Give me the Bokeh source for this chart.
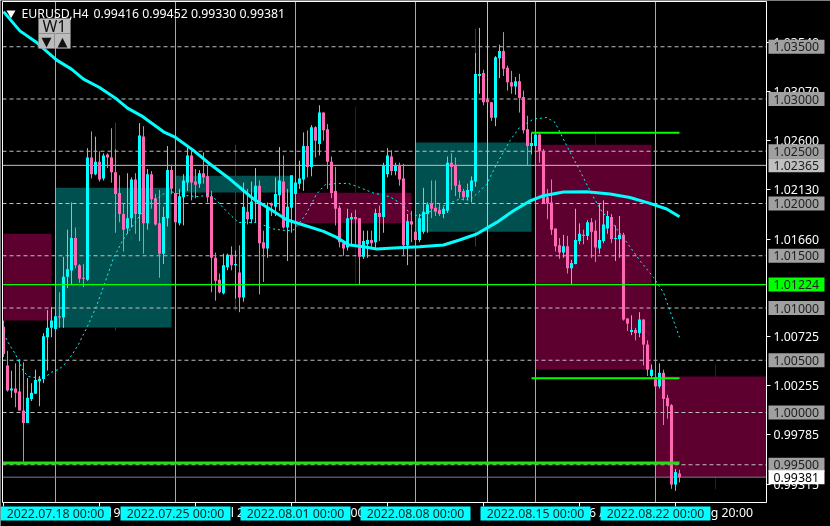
from bokeh.plotting import figure
from bokeh.models import (Range1d, LinearAxis, FixedTicker, BoxAnnotation, Label)
from bokeh.embed import file_html
from bokeh.resources import INLINE

opens = [1.0082,1.0045,1.0021,1.0023,1.0020,1.0002,0.9990,1.0013,1.0018,1.0030,1.0032,1.0072,1.0081,1.0080,1.0092,1.0091,1.0130,1.0136,1.0167,1.0141,
1.0129,1.0127,1.0244,1.0228,1.0240,1.0224,1.0247,1.0244,1.0230,1.0210,1.0190,1.0176,1.0186,1.0223,1.0190,1.0264,1.0181,1.0228,1.0205,1.0181,
1.0152,1.0186,1.0232,1.0210,1.0181,1.0206,1.0220,1.0246,1.0221,1.0219,1.0229,1.0226,1.0207,1.0148,1.0127,1.0114,1.0139,1.0151,1.0141,1.0134,
1.0110,1.0192,1.0185,1.0202,1.0217,1.0163,1.0157,1.0200,1.0197,1.0208,1.0221,1.0177,1.0196,1.0209,1.0219,1.0223,1.0255,1.0235,1.0273,1.0257,
1.0287,1.0271,1.0240,1.0212,1.0196,1.0162,1.0158,1.0185,1.0187,1.0186,1.0149,1.0161,1.0165,1.0163,1.0191,1.0187,1.0228,1.0245,1.0231,1.0236,
1.0224,1.0160,1.0183,1.0173,1.0165,1.0173,1.0190,1.0200,1.0196,1.0194,1.0190,1.0193,1.0239,1.0237,1.0218,1.0212,1.0206,1.0212,1.0221,1.0322,
1.0325,1.0299,1.0297,1.0282,1.0339,1.0346,1.0330,1.0316,1.0312,1.0317,1.0302,1.0271,1.0255,1.0255,1.0266,1.0250,1.0206,1.0201,1.0176,1.0160,
1.0153,1.0159,1.0138,1.0142,1.0164,1.0170,1.0169,1.0182,1.0174,1.0157,1.0164,1.0176,1.0187,1.0166,1.0166,1.0170,1.0090,1.0077,1.0079,1.0076,
1.0089,1.0065,1.0035,1.0034,1.0025,1.0038,1.0014,1.0007,0.9931,0.99416]
highs = [1.0088,1.0059,1.0040,1.0047,1.0051,1.0048,1.0033,1.0028,1.0041,1.0035,1.0076,1.0098,1.0101,1.0101,1.0115,1.0149,1.0175,1.0201,1.0177,1.0142,
1.0142,1.0253,1.0269,1.0264,1.0250,1.0248,1.0248,1.0272,1.0252,1.0227,1.0200,1.0229,1.0225,1.0229,1.0277,1.0274,1.0233,1.0231,1.0209,1.0213,
1.0197,1.0255,1.0237,1.0212,1.0214,1.0228,1.0255,1.0253,1.0233,1.0232,1.0249,1.0236,1.0212,1.0153,1.0133,1.0152,1.0152,1.0159,1.0155,1.0160,
1.0220,1.0214,1.0221,1.0234,1.0222,1.0174,1.0201,1.0201,1.0225,1.0254,1.0246,1.0214,1.0227,1.0222,1.0241,1.0268,1.0270,1.0275,1.0274,1.0294,
1.0287,1.0276,1.0245,1.0235,1.0198,1.0164,1.0195,1.0191,1.0194,1.0186,1.0174,1.0174,1.0174,1.0195,1.0198,1.0239,1.0253,1.0251,1.0239,1.0239,
1.0238,1.0190,1.0193,1.0182,1.0190,1.0215,1.0201,1.0222,1.0222,1.0200,1.0197,1.0245,1.0248,1.0244,1.0222,1.0214,1.0219,1.0226,1.0344,1.0368,
1.0328,1.0299,1.0297,1.0341,1.0352,1.0364,1.0332,1.0327,1.0321,1.0324,1.0308,1.0284,1.0268,1.0268,1.0267,1.0252,1.0214,1.0223,1.0176,1.0167,
1.0170,1.0169,1.0146,1.0195,1.0181,1.0175,1.0184,1.0186,1.0184,1.0200,1.0203,1.0193,1.0190,1.0179,1.0188,1.0172,1.0090,1.0093,1.0081,1.0096,
1.0089,1.0069,1.0046,1.0042,1.0047,1.0041,1.0017,1.0008,0.9946,0.99452]
lows = [1.0053,1.0020,1.0014,1.0005,1.0002,0.9953,0.9990,1.0011,1.0018,1.0006,1.0028,1.0040,1.0072,1.0078,1.0081,1.0081,1.0119,1.0123,1.0138,1.0124,
1.0120,1.0126,1.0224,1.0227,1.0221,1.0222,1.0234,1.0220,1.0172,1.0182,1.0154,1.0171,1.0177,1.0171,1.0164,1.0152,1.0175,1.0195,1.0179,1.0129,
1.0142,1.0178,1.0209,1.0178,1.0179,1.0179,1.0212,1.0203,1.0205,1.0215,1.0219,1.0201,1.0115,1.0107,1.0114,1.0113,1.0136,1.0136,1.0109,1.0096,
1.0106,1.0180,1.0181,1.0182,1.0113,1.0125,1.0148,1.0188,1.0188,1.0193,1.0176,1.0145,1.0172,1.0198,1.0214,1.0212,1.0225,1.0226,1.0244,1.0246,
1.0260,1.0214,1.0205,1.0179,1.0158,1.0150,1.0155,1.0161,1.0161,1.0123,1.0147,1.0148,1.0157,1.0157,1.0164,1.0172,1.0225,1.0227,1.0227,1.0217,
1.0150,1.0141,1.0163,1.0163,1.0163,1.0171,1.0172,1.0186,1.0188,1.0188,1.0186,1.0191,1.0213,1.0207,1.0205,1.0203,1.0203,1.0201,1.0216,1.0305,
1.0294,1.0296,1.0279,1.0274,1.0320,1.0322,1.0308,1.0305,1.0304,1.0287,1.0267,1.0237,1.0247,1.0253,1.0239,1.0200,1.0185,1.0170,1.0154,1.0147,
1.0148,1.0133,1.0122,1.0142,1.0161,1.0161,1.0165,1.0148,1.0144,1.0152,1.0162,1.0171,1.0162,1.0145,1.0148,1.0088,1.0078,1.0074,1.0069,1.0072,
1.0045,1.0035,1.0033,1.0025,1.0023,0.9988,0.9994,0.9927,0.9925,0.99330]
closes = [1.0056,1.0021,1.0023,1.0019,1.0002,0.9990,1.0014,1.0019,1.0031,1.0032,1.0073,1.0081,1.0088,1.0092,1.0091,1.0130,1.0137,1.0167,1.0141,1.0128,
1.0128,1.0244,1.0228,1.0240,1.0223,1.0246,1.0244,1.0230,1.0209,1.0190,1.0175,1.0186,1.0223,1.0190,1.0265,1.0181,1.0228,1.0204,1.0180,1.0152,
1.0187,1.0232,1.0214,1.0182,1.0207,1.0222,1.0246,1.0220,1.0218,1.0229,1.0225,1.0206,1.0148,1.0126,1.0115,1.0141,1.0151,1.0141,1.0142,1.0110,
1.0197,1.0185,1.0202,1.0217,1.0162,1.0157,1.0196,1.0198,1.0209,1.0222,1.0177,1.0197,1.0227,1.0220,1.0224,1.0255,1.0235,1.0273,1.0260,1.0287,
1.0270,1.0240,1.0210,1.0195,1.0163,1.0157,1.0186,1.0187,1.0185,1.0149,1.0164,1.0165,1.0162,1.0191,1.0187,1.0236,1.0246,1.0231,1.0236,1.0223,
1.0160,1.0183,1.0180,1.0165,1.0186,1.0192,1.0199,1.0195,1.0192,1.0190,1.0195,1.0239,1.0235,1.0217,1.0211,1.0206,1.0213,1.0222,1.0324,1.0324,
1.0297,1.0297,1.0282,1.0340,1.0346,1.0329,1.0316,1.0312,1.0317,1.0301,1.0270,1.0255,1.0258,1.0266,1.0250,1.0200,1.0200,1.0175,1.0159,1.0153,
1.0159,1.0138,1.0143,1.0165,1.0171,1.0169,1.0182,1.0173,1.0158,1.0165,1.0180,1.0188,1.0166,1.0167,1.0170,1.0089,1.0085,1.0079,1.0076,1.0089,
1.0065,1.0041,1.0041,1.0025,1.0038,1.0013,1.0006,0.9931,0.9943,0.99381]

ma_slow_k = [0,4.1,8.3,13.3,17,20,24,28.3,31,34.5,40,43,47.4,51.6,56.6,62.5,66.6,70.8,75,80,83.3,86.2,90,93.3,97.5,104,110,114,118.3,123.3,127.5,131.6,135,140,145.8,151.6,156.6,161.6,165.8,169]
ma_slow = [1.03836,1.03652,1.03540,1.03372,1.03286,1.03190,1.03110,1.02999,1.02913,1.02839,1.02686,1.02632,1.02511,1.02378,1.02234,1.02043,1.01947,1.01845,1.01794,1.01733,1.01676,1.01606,1.01587,1.01565,1.01575,1.01587,1.01603,1.01651,1.01708,1.01819,1.01931,1.02024,1.02075,1.02110,1.02113,1.02091,1.02058,1.02001,1.01947,1.01874]
ma_fast_k = [0,1.6,2.9,5,6.2,10,12,13.7,15,17,18.6,21.2,23.3,25.4,27.5,30,32.9,35.8,40,41.6,45.8,49,51.6,53.3,55.8,58.7,63.3,67.5,70.8,72.5,75.4,78.3,80.4,83.3,86.2,89,92.5,96.6,99.5,102,104,109,114,116.6,118.3,120.8,123.3,126.6,129,132.5,135.8,137.9,140.8,144.1,146.2,147.9,149.6,152.4,155.8,159.1,162.5,165,166.6,169]
ma_fast = [1.00755,1.00641,1.00564,1.00395,1.00344,1.00325,1.00385,1.00411,1.00449,1.00545,1.00641,1.00841,1.01023,1.01246,1.01479,1.01661,1.01819,1.01979,1.02091,1.02116,1.02075,1.02065,1.02091,1.02027,1.01924,1.01819,1.01819,1.01756,1.01740,1.01747,1.01883,1.02091,1.02180,1.02192,1.02192,1.02154,1.02100,1.02065,1.01995,1.01893,1.01883,1.01960,1.02043,1.02033,1.02091,1.02186,1.02378,1.02600,1.02727,1.02808,1.02823,1.02775,1.02553,1.02314,1.02154,1.02033,1.01924,1.01804,1.01628,1.01453,1.01293,1.01147,1.00975,1.00720]

# higher-timeframe (W1) candles: first bar, last bar, open, close, wick bar, high, low
w1_start = [0,13,43,73,103,133,163]
w1_end = [12,42,72,102,132,162,190.75]
w1_open = [1.01711,1.00813,1.02106,1.02103,1.01730,1.02562,1.00344]
w1_close = [1.00880,1.02151,1.02266,1.01810,1.02584,1.00411,0.99381]
w1_wick_k = [28,58,88,118,148,178]
w1_high = [1.02772,1.02562,1.02925,1.03671,1.02667,1.00459]
w1_low = [1.00784,1.00975,1.01233,1.01587,1.00411,0.99264]

levels = [1.035,1.03,1.025,1.02,1.015,1.01,1.005,1.0,0.995]
level_labels = ["1.03500","1.03000","1.02500","1.02000","1.01500","1.01000","1.00500","1.00000","0.99500"]
scale_ticks = [1.0354,1.0307,1.0260,1.0213,1.0166,1.00725,1.00255,0.99785,0.99315]
scale_labels = ["1.03540","1.03070","1.02600","1.02130","1.01660","1.00725","1.00255","0.99785","0.99315"]
week_k = [13,43,73,103,133,163]
week_labels = ["2022.07.18 00:00","2022.07.25 00:00","2022.08.01 00:00","2022.08.08 00:00","2022.08.15 00:00","2022.08.22 00:00"]
time_tick_k = [0,24,48,72,96,120,144,168]
time_labels = ["14 Jul 20:00","19 Jul 20:00","25 Jul 20:00","29 Jul 20:00","04 Aug 20:00","10 Aug 20:00","16 Aug 20:00","22 Aug 20:00"]
full_green = 1.01224
short_green = [1.02677,1.00328]
bottom_green = 0.99517
cursor_price = 1.02365
bid_price = 0.99381
cursor_k = 121

BG = "#000000"; CY = "#00ffff"; PK = "#ff69b4"; TEAL = "#005050"; WINE = "#5e002f"
w1_wick_col = [TEAL, TEAL, WINE, TEAL, WINE, WINE]
FONT = "Noto Sans"; FS = "12.3px"

# plot geometry: one bar = 4px, 0.005 in price = 52.25px
PX = 1/10450
def kx(x): return (x - 3)/4
def py(y): return 1 + (412 - y)*PX

p = figure(width=830, height=526, output_backend="svg", toolbar_location=None,
           x_range=Range1d(kx(0), kx(830)), y_range=Range1d(py(526), py(0)),
           background_fill_color=BG, border_fill_color=BG, outline_line_color=None,
           min_border=0, x_axis_type=None, y_axis_type=None)
p.xgrid.visible = False; p.ygrid.visible = False
p.styles = {"position": "fixed", "left": "0px", "top": "0px"}

xl, xr = kx(2), kx(766)
yb, yt = py(502), py(1)

# W1 candles behind everything
col = [TEAL if c >= o else WINE for o, c in zip(w1_open, w1_close)]
p.segment(w1_wick_k, w1_high, w1_wick_k, w1_low, line_color=w1_wick_col, line_width=1, line_alpha=1)
p.quad(left=w1_start, right=w1_end, top=[max(a, b) for a, b in zip(w1_open, w1_close)],
       bottom=[min(a, b) for a, b in zip(w1_open, w1_close)], fill_color=col, fill_alpha=1, line_color=None)

p.multi_line([[xl, xr] for _ in levels], [[v, v] for v in levels], line_color="#c0c0c0", line_alpha=1, line_width=1, line_dash="4 3")
p.multi_line([[k, k] for k in week_k], [[yb, yt] for _ in week_k], line_color="#20e0f0", line_alpha=1, line_width=1)
p.line([cursor_k, cursor_k], [yb, yt], line_color="#c0c0c0", line_alpha=1, line_width=1)
p.line([xl, xr], [cursor_price, cursor_price], line_color="#c0c0c0", line_alpha=1, line_width=1)
p.line([xl, xr], [bid_price, bid_price], line_color="#708090", line_alpha=1, line_width=1)

# candles
ks = list(range(len(opens)))
ccol = [CY if c >= o else PK for o, c in zip(opens, closes)]
p.segment(ks, highs, ks, lows, line_color=ccol, line_alpha=1, line_width=1)
p.vbar(x=ks, width=0.75, top=[max(a, b) for a, b in zip(opens, closes)],
       bottom=[min(a, b) for a, b in zip(opens, closes)], fill_color=ccol, fill_alpha=1, line_color=None)

# moving averages
p.line(ma_fast_k, ma_fast, line_color=CY, line_alpha=1, line_width=1, line_dash="2 3")
p.line(ma_slow_k, ma_slow, line_color=CY, line_alpha=1, line_width=3)

# green levels
p.line([xl, xr], [full_green, full_green], line_color="#00ff00", line_alpha=1, line_width=1.4)
p.multi_line([[132, 169], [132, 169]], [[v, v] for v in short_green], line_color="#00ff00", line_alpha=1, line_width=2)
p.line([xl, 169], [bottom_green, bottom_green], line_color="#20e010", line_alpha=1, line_width=3)

p.scatter([kx(10.5)], [py(12.5)], marker="inverted_triangle", size=9, fill_color="white", fill_alpha=1, line_color=None)

# axes sit inside the full-canvas frame at fixed locations
ax_r = LinearAxis(ticker=FixedTicker(ticks=scale_ticks), major_label_overrides=dict(zip(scale_ticks, scale_labels)),
                  fixed_location=xr, bounds=(yb, yt),
                  axis_line_color="white", axis_line_width=1, major_tick_line_color="white", major_tick_in=0, major_tick_out=4,
                  minor_tick_line_color=None, major_label_standoff=3, major_label_text_color="white",
                  major_label_text_font=FONT, major_label_text_font_size=FS)
p.add_layout(ax_r, "right")
centers = [k + 10 for k in time_tick_k]
ax_b = LinearAxis(ticker=FixedTicker(ticks=centers, minor_ticks=time_tick_k),
                  major_label_overrides=dict(zip(centers, time_labels)),
                  fixed_location=yb, bounds=(xl, xr),
                  axis_line_color="white", axis_line_width=1, major_tick_line_color=None, major_tick_in=0, major_tick_out=0,
                  minor_tick_line_color="white", minor_tick_in=0, minor_tick_out=4,
                  major_label_standoff=-3, major_label_text_color="white",
                  major_label_text_font=FONT, major_label_text_font_size=FS)
p.add_layout(ax_b, "below")
for side, loc, bnd in [("left", xl, (yb, yt)), ("above", yt, (xl, xr))]:
    a = LinearAxis(ticker=FixedTicker(ticks=[]), fixed_location=loc, bounds=bnd, axis_line_color="white", axis_line_width=1,
                   major_tick_line_color=None, minor_tick_line_color=None, major_label_text_font_size="0px")
    p.add_layout(a, side)

def tag(level, text, fill, color="#202020"):
    p.add_layout(BoxAnnotation(left=kx(768), right=kx(824), top=level + 7*PX, bottom=level - 7*PX,
                               fill_color=fill, fill_alpha=1, line_color=None, level="annotation"))
    p.add_layout(Label(x=kx(773), y=level, text=text, text_color=color, text_font=FONT, text_font_size=FS,
                       text_align="left", text_baseline="middle", level="overlay"))

for v, t in zip(levels, level_labels):
    tag(v, t, "#a0a0a0")
tag(cursor_price, "1.02365", "#c0c0c0")
tag(full_green, "1.01224", "#00ff00")
tag(bid_price, "0.99381", "#ffffff", "#000000")

for k, t in zip(week_k, week_labels):
    p.add_layout(BoxAnnotation(left=k - 55/4, right=k + 55/4, top=py(506), bottom=py(520),
                               fill_color="#00ffff", fill_alpha=1, line_color=None, level="annotation"))
    p.add_layout(Label(x=k, y=py(513), text=t, text_color="#102020", text_font=FONT, text_font_size=FS,
                       text_align="center", text_baseline="middle", level="overlay"))

# header text
p.add_layout(Label(x=kx(21), y=py(12.5), text="EURUSD,H4", text_color="white", text_font=FONT, text_font_size=FS,
                   text_align="left", text_baseline="middle", level="overlay"))
p.add_layout(Label(x=kx(93), y=py(12.5), text="0.99416 0.99452 0.99330 0.99381", text_color="white", text_font=FONT,
                   text_font_size=FS, text_align="left", text_baseline="middle", level="overlay"))

# W1 buttons
for l, r, t, b in [(38, 70, 18, 33), (38, 54, 33, 48), (54, 70, 33, 48)]:
    p.add_layout(BoxAnnotation(left=kx(l), right=kx(r), top=py(t), bottom=py(b), fill_color="#bcbcbc", fill_alpha=1,
                               line_color="#8c8c8c", line_width=1, level="annotation"))
for x, y, t, fs, fnt in [(54, 25.5, "W1", "16px", "Noto Sans"), (46, 40.5, "\u25BC", "13px", "DejaVu Sans"), (62, 40.5, "\u25B2", "13px", "DejaVu Sans")]:
    p.add_layout(Label(x=kx(x), y=py(y), text=t, text_color="#101010", text_font=fnt, text_font_size=fs,
                       text_align="center", text_baseline="middle", level="overlay"))

open("out.html", "w").write(file_html(p, INLINE))
